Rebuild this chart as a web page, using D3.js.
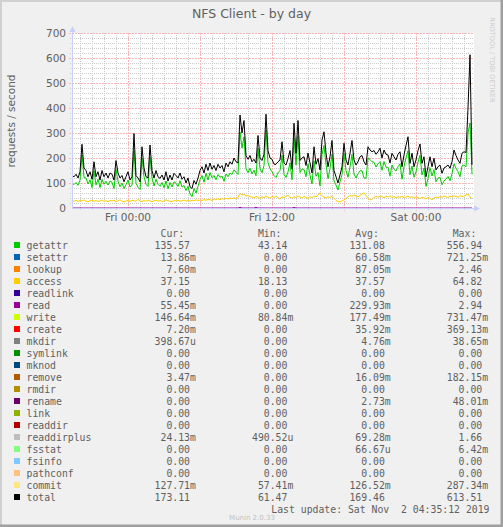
<!DOCTYPE html>
<html>
<head>
<meta charset="utf-8">
<script src="https://cdn.jsdelivr.net/npm/d3@7"></script>
<style>
  html, body { margin: 0; padding: 0; background: #f0f0f0; }
  svg { display: block; }
  text { font-family: "DejaVu Sans", sans-serif; fill: #606060; }
  .mono { font-family: "DejaVu Sans Mono", monospace; font-size: 9.8px; white-space: pre; }
</style>
</head>
<body>
<svg id="chart" width="503" height="527"></svg>
<script>
// 10-minute samples, Thu 31 Oct 19:20 .. Sat 2 Nov 04:40 (UTC used as wall clock)
const startTime = Date.UTC(2019, 9, 31, 19, 20);
const stepMs = 10 * 60 * 1000;

const totalValues = [
  130,125,135,120,145,255,160,150,125,145,115,185,125,145,112,150,125,140,120,140,
  135,112,190,140,120,130,105,125,145,112,125,298,130,120,105,245,160,125,120,252,
  150,120,150,125,119,132,112,145,108,132,112,139,
  130,120,140,115,125,100,120,85,78,110,95,120,150,165,140,175,150,180,155,170,
  150,175,160,170,145,180,165,185,175,200,185,180,372,300,350,210,195,210,185,195,
  180,290,200,190,215,375,230,200,195,175,
  175,185,192,265,180,172,198,230,155,339,219,350,190,200,205,170,220,180,140,245,
  175,198,152,272,305,219,165,205,270,150,125,100,132,165,259,192,172,219,270,192,
  172,185,205,210,185,172,245,232,225,230,
  215,225,239,200,232,215,212,180,219,205,192,215,225,165,212,250,285,179,219,165,
  192,230,256,179,205,125,165,205,165,199,152,165,172,139,160,165,172,159,185,232,
  210,192,179,219,225,222,400,613,173
];

const getattrValues = [
  98,94,102,91,111,212,122,120,96,113,82,150,92,115,82,114,95,107,92,108,
  103,78,154,107,85,100,78,93,112,84,91,229,99,83,74,199,125,95,86,204,
  120,88,115,95,87,102,81,108,77,102,84,105,
  99,86,109,84,90,70,87,56,45,78,60,87,114,130,103,139,112,142,121,130,
  113,134,123,128,107,136,125,140,134,153,143,134,304,240,285,157,141,159,137,151,
  129,238,157,141,169,312,182,157,145,130,
  122,141,150,211,135,122,144,181,113,279,172,287,142,156,154,125,177,131,96,189,
  127,142,88,214,250,174,117,158,215,108,92,72,105,133,218,150,123,164,215,136,
  120,137,149,149,120,119,200,194,185,183,
  164,177,185,151,186,163,163,127,172,155,148,165,177,115,166,200,229,133,168,123,
  144,184,211,132,160,86,119,162,128,154,105,120,122,93,108,116,126,109,137,177,
  159,145,125,169,172,165,300,340,135
];

const accessValues = [
  29,27,31,26,30,28,33,27,25,29,31,27,30,26,28,32,27,29,25,30,
  28,31,26,29,33,27,24,28,30,26,31,29,27,35,28,26,30,27,32,28,
  25,29,31,27,30,26,28,33,29,27,25,30,28,31,27,29,32,28,30,27,
  31,29,33,30,
  32,30,34,31,35,33,30,36,34,37,33,38,35,39,36,40,37,41,38,42,
  58,52,55,48,50,46,
  44,40,47,42,38,45,41,48,43,39,46,42,
  49,40,37,44,41,47,50,43,39,45,42,48,44,40,46,42,38,45,41,48,
  44,52,61,48,43,40,45,42,47,39,
  30,26,24,28,33,38,
  45,50,47,52,48,44,51,56,61,49,38,32,35,42,
  46,43,48,45,41,47,44,49,42,46,40,45,43,47,41,44,48,42,46,39,
  44,41,38,43,40,36,42,38,33,40,44,41,46,43,48,45,42,47,44,49,
  46,43,50,45,48,52,56,44,37
];

// read only shows as tiny blips: [sample index, value]
const readBlips = [[84, 2.9], [92, 2.5], [111, 2.2]];

const seriesNames = ["getattr","setattr","lookup","access","readlink","read","write","create",
  "mkdir","symlink","mknod","remove","rmdir","rename","link","readdir","readdirplus",
  "fsstat","fsinfo","pathconf","commit","total"];
const seriesColors = ["#00cc00","#0066b3","#ff8000","#ffcc00","#330099","#990099","#ccff00","#ff0000",
  "#808080","#008f00","#00487d","#b35a00","#b38f00","#6b006b","#8fb300","#b30000","#bebebe",
  "#80ff80","#80c9ff","#ffc080","#ffe680","#000000"];
const curStats = ["135.57","13.86m","7.60m","37.15","0.00","55.45m","146.64m","7.20m","398.67u","0.00",
  "0.00","3.47m","0.00","0.00","0.00","0.00","24.13m","0.00","0.00","0.00","127.71m","173.11"];
const minStats = ["43.14","0.00","0.00","18.13","0.00","0.00","80.84m","0.00","0.00","0.00",
  "0.00","0.00","0.00","0.00","0.00","0.00","490.52u","0.00","0.00","0.00","57.41m","61.47"];
const avgStats = ["131.08","60.58m","87.05m","37.57","0.00","229.93m","177.49m","35.92m","4.76m","0.00",
  "0.00","16.09m","0.00","2.73m","0.00","0.00","69.28m","66.67u","0.00","0.00","126.52m","169.46"];
const maxStats = ["556.94","721.25m","2.46","64.82","0.00","2.94","731.47m","369.13m","38.65m","0.00",
  "0.00","182.15m","0.00","48.01m","0.00","0.00","1.66","6.42m","0.00","0.00","287.34m","613.51"];
const statHeaders = ["Cur:","Min:","Avg:","Max:"];

const yTicks = [0, 100, 200, 300, 400, 500, 600, 700];

const svg = d3.select("#chart");
const W = 503, H = 527;
const plotLeft = 72, plotRight = 472, plotTop = 33, plotBottom = 208;

// frame
svg.append("rect").attr("width", W).attr("height", H).attr("fill", "#f0f0f0");
svg.append("path").attr("d", `M0,${H}V0H${W}`).attr("fill", "none").attr("stroke", "#d0d0d0").attr("stroke-width", 4);
svg.append("path").attr("d", `M0,${H}H${W}V0`).attr("fill", "none").attr("stroke", "#a0a0a0").attr("stroke-width", 5);

const x = d3.scaleUtc()
  .domain([new Date(startTime), new Date(startTime + 200 * stepMs)])
  .range([plotLeft, plotRight]);
const y = d3.scaleLinear().domain([0, 700]).range([plotBottom, plotTop]);
const t = i => new Date(startTime + i * stepMs);

// canvas
svg.append("rect")
  .attr("x", plotLeft).attr("y", plotTop)
  .attr("width", plotRight - plotLeft + 2).attr("height", plotBottom - plotTop)
  .attr("fill", "#ffffff");

const grid = svg.append("g");
const hours = d3.utcHour.every(1).range(x.domain()[0], x.domain()[1]);
const isMajorX = d => d.getUTCHours() % 6 === 0;
const px = v => Math.round(v) + 0.5;

grid.selectAll("line.vminor")
  .data(hours.filter(d => !isMajorX(d)))
  .join("line")
  .attr("class", "vminor")
  .attr("x1", d => px(x(d))).attr("x2", d => px(x(d)))
  .attr("y1", plotTop).attr("y2", plotBottom + 2)
  .attr("stroke", "#cccccc").attr("stroke-dasharray", "1,1");

grid.selectAll("line.hminor")
  .data(d3.range(20, 701, 20).filter(v => v % 100 !== 0))
  .join("line")
  .attr("class", "hminor")
  .attr("x1", plotLeft - 2).attr("x2", plotRight + 2)
  .attr("y1", d => px(y(d))).attr("y2", d => px(y(d)))
  .attr("stroke", "#cccccc").attr("stroke-dasharray", "1,1");

grid.selectAll("line.vmajor")
  .data(hours.filter(isMajorX))
  .join("line")
  .attr("class", "vmajor")
  .attr("x1", d => px(x(d))).attr("x2", d => px(x(d)))
  .attr("y1", plotTop).attr("y2", plotBottom + 3)
  .attr("stroke", "#ffb4b4").attr("stroke-dasharray", "2,1");

grid.selectAll("line.hmajor")
  .data(yTicks.filter(v => v > 0))
  .join("line")
  .attr("class", "hmajor")
  .attr("x1", plotLeft - 3).attr("x2", plotRight + 2)
  .attr("y1", d => px(y(d))).attr("y2", d => px(y(d)))
  .attr("stroke", "#ffb4b4").attr("stroke-dasharray", "2,1");

// data lines
const line = d3.line().x((d, i) => x(t(i))).y(d => y(d));
const readSeries = totalValues.map(() => 0);
readBlips.forEach(([i, v]) => { readSeries[i] = v; });

const plotted = [
  { values: getattrValues, color: seriesColors[0] },
  { values: accessValues, color: seriesColors[3] },
  { values: readSeries, color: seriesColors[5] },
  { values: totalValues, color: seriesColors[21] }
];
svg.append("g")
  .selectAll("path")
  .data(plotted)
  .join("path")
  .attr("d", d => line(d.values))
  .attr("fill", "none")
  .attr("stroke", d => d.color)
  .attr("stroke-width", 1);

// axes
const axisColor = "#c8cff8";
svg.append("line").attr("x1", plotLeft).attr("x2", plotRight + 3).attr("y1", plotBottom + 0.5).attr("y2", plotBottom + 0.5)
  .attr("stroke", axisColor);
svg.append("line").attr("x1", plotLeft + 0.5).attr("x2", plotLeft + 0.5).attr("y1", plotBottom + 1).attr("y2", plotTop - 2)
  .attr("stroke", axisColor);
svg.append("path").attr("d", `M${plotRight + 8},${plotBottom + 0.5}L${plotRight + 2},${plotBottom - 2.5}L${plotRight + 2},${plotBottom + 3.5}Z`)
  .attr("fill", axisColor);
svg.append("path").attr("d", `M${plotLeft + 0.5},${plotTop - 7}L${plotLeft - 2.5},${plotTop - 1}L${plotLeft + 3.5},${plotTop - 1}Z`)
  .attr("fill", axisColor);

// tick labels
svg.append("g")
  .selectAll("text")
  .data(yTicks)
  .join("text")
  .attr("x", plotLeft - 6)
  .attr("y", d => y(d))
  .attr("dy", "0.36em")
  .attr("text-anchor", "end")
  .attr("font-size", "10.5px")
  .text(d => d);

svg.append("g")
  .selectAll("text")
  .data(hours.filter(d => d.getUTCHours() % 12 === 0))
  .join("text")
  .attr("x", d => x(d))
  .attr("y", 221)
  .attr("text-anchor", "middle")
  .attr("font-size", "10.5px")
  .text(d3.utcFormat("%a %H:%M"));

// titles
svg.append("text")
  .attr("x", 251.5).attr("y", 17.5)
  .attr("text-anchor", "middle")
  .attr("font-size", "12.5px")
  .text("NFS Client - by day");

svg.append("text")
  .attr("transform", "translate(14.5,121) rotate(-90)")
  .attr("text-anchor", "middle")
  .attr("font-size", "10.5px")
  .text("requests / second");

svg.append("text")
  .attr("transform", "translate(490,60) rotate(90)")
  .attr("text-anchor", "middle")
  .attr("font-size", "6.6px")
  .style("fill", "#cccccc")
  .text("RRDTOOL / TOBI OETIKER");

// legend
const charW = 0.602 * 9.8;
const numEnds = [190, 287.4, 384.8, 482.2];
const rowY = i => 245 + i * 12;

svg.append("g")
  .selectAll("text")
  .data(statHeaders)
  .join("text")
  .attr("class", "mono")
  .attr("x", (d, i) => numEnds[i] - 5 * charW)
  .attr("y", 236.5)
  .text(d => d);

const rows = svg.append("g")
  .selectAll("g")
  .data(seriesNames.map((name, i) => ({
    name, color: seriesColors[i],
    stats: [curStats[i], minStats[i], avgStats[i], maxStats[i]]
  })))
  .join("g")
  .attr("transform", (d, i) => `translate(0,${rowY(i)})`);

rows.append("rect")
  .attr("x", 14).attr("y", -3)
  .attr("width", 6).attr("height", 6)
  .attr("fill", d => d.color);

rows.append("text")
  .attr("class", "mono")
  .attr("x", 26.5).attr("y", 3.5)
  .text(d => d.name);

rows.selectAll(".stat")
  .data(d => d.stats)
  .join("text")
  .attr("class", "mono stat")
  .attr("x", (d, i) => numEnds[i] - 6 * charW)
  .attr("y", 3.5)
  .text(d => {
    const m = d.match(/^([\d.]+)(.?)$/);
    return m[1].padStart(6, " ") + (m[2] || "");
  });

svg.append("text")
  .attr("class", "mono")
  .attr("x", 489.5).attr("y", 512.5)
  .attr("text-anchor", "end")
  .text("Last update: Sat Nov  2 04:35:12 2019");

svg.append("text")
  .attr("x", 252).attr("y", 519.5)
  .attr("text-anchor", "middle")
  .attr("font-size", "7px")
  .style("fill", "#c0c0c0")
  .text("Munin 2.0.33");
</script>
</body>
</html>
